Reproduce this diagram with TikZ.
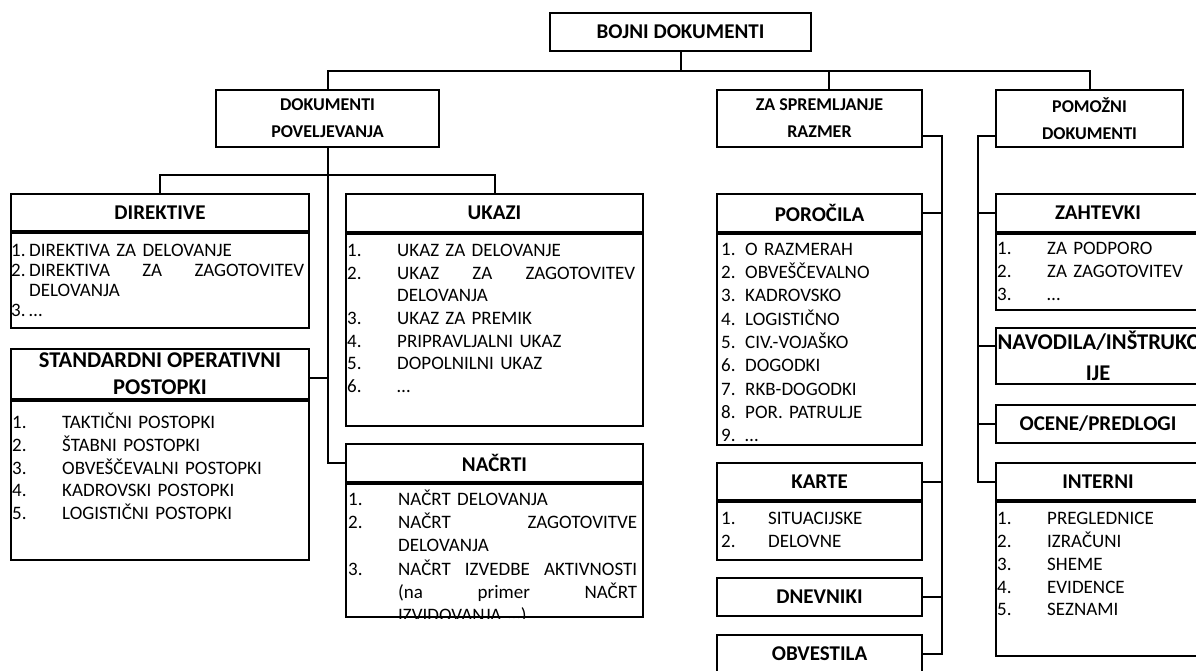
\documentclass[tikz,border=0pt]{standalone}
\usepackage{fontspec}
\setmainfont{Carlito}

\newcommand{\li}[3][50pt]{\strut\makebox[#1][l]{#2}#3}

\begin{document}
\begin{tikzpicture}[x=1pt, y=-1pt]
		\tikzstyle {box} = [draw, line width=2pt, anchor=north west, inner sep=0pt, align=center]
		\tikzstyle {head} = [box, font=\bfseries\fontsize{21}{27}\selectfont]
		\tikzstyle {group} = [box, minimum height=57pt, font=\bfseries\fontsize{18}{27}\selectfont]
		\tikzstyle {list} = [anchor=north west, align=left, inner xsep=2pt, inner ysep=7.4pt, font=\fontsize{19}{22.7}\selectfont]
		\tikzstyle {link} = [line width=2pt]

		\useasboundingbox (0,0) rectangle (1196,670);
		\clip (0,0) rectangle (1196,670);

		\node[head, minimum width=261pt, minimum height=38pt] (bojni) at (549,12) {BOJNI DOKUMENTI};

		\node[group, minimum width=223pt] (poveljevanja) at (215,89) {DOKUMENTI\\POVELJEVANJA};
		\node[group, minimum width=205pt] (spremljanje) at (716,89) {ZA SPREMLJANJE\\RAZMER};
		\node[group, minimum width=187pt] (pomozni) at (995,89) {POMOŽNI\\DOKUMENTI};

		% dokumenti poveljevanja
		\node[head, minimum width=298pt, minimum height=37pt] (direktive) at (10,193) {DIREKTIVE};
		\node[box, minimum width=298pt, minimum height=95pt] (direktive-box) at (direktive.south west) {};
		\node[list, text width=293pt, inner xsep=1pt, inner ysep=10pt, font=\fontsize{19}{20}\selectfont] (direktive-list) at (direktive-box.north west) {
			\li[18pt]{1.}{DIREKTIVA ZA DELOVANJE}\\
			\li[18pt]{2.}{DIREKTIVA\hfill ZA\hfill ZAGOTOVITEV}\\
			\li[18pt]{}{DELOVANJA}\\
			\li[18pt]{3.}{…}};

		\node[head, minimum width=298pt, minimum height=50pt, font=\bfseries\fontsize{22.5}{27}\selectfont] (standardni) at (10,348) {STANDARDNI OPERATIVNI\\POSTOPKI};
		\node[box, minimum width=298pt, minimum height=159pt] (standardni-box) at (standardni.south west) {};
		\node[list, text width=293pt, inner ysep=12.8pt] (standardni-list) at (standardni-box.north west) {
			\li{1.}{TAKTIČNI POSTOPKI}\\
			\li{2.}{ŠTABNI POSTOPKI}\\
			\li{3.}{OBVEŠČEVALNI POSTOPKI}\\
			\li{4.}{KADROVSKI POSTOPKI}\\
			\li{5.}{LOGISTIČNI POSTOPKI}};

		\node[head, minimum width=297pt, minimum height=38pt] (ukazi) at (345,193) {UKAZI};
		\node[box, minimum width=297pt, minimum height=192pt] (ukazi-box) at (ukazi.south west) {};
		\node[list, text width=288pt] (ukazi-list) at (ukazi-box.north west) {
			\li{1.}{UKAZ ZA DELOVANJE}\\
			\li{2.}{UKAZ\hfill ZA\hfill ZAGOTOVITEV}\\
			\li{}{DELOVANJA}\\
			\li{3.}{UKAZ ZA PREMIK}\\
			\li{4.}{PRIPRAVLJALNI UKAZ}\\
			\li{5.}{DOPOLNILNI UKAZ}\\
			\li{6.}{…}};

		\node[head, minimum width=297pt, minimum height=38pt] (nacrti) at (345,443) {NAČRTI};
		\node[box, minimum width=297pt, minimum height=133pt] (nacrti-box) at (nacrti.south west) {};
		\begin{scope}
			\clip (nacrti-box.north west) rectangle (nacrti-box.south east);
			\node[list, text width=289pt, inner xsep=3pt, inner ysep=5.8pt, font=\fontsize{19}{23.3}\selectfont] (nacrti-list) at (nacrti-box.north west) {
				\li{1.}{NAČRT DELOVANJA}\\
				\li{2.}{NAČRT\hfill ZAGOTOVITVE}\\
				\li{}{DELOVANJA}\\
				\li{3.}{NAČRT\hfill IZVEDBE\hfill AKTIVNOSTI}\\
				\li{}{(na\hfill primer\hfill NAČRT}\\
				\li{}{IZVIDOVANJA …)}};
		\end{scope}

		% za spremljanje razmer
		\node[head, minimum width=205pt, minimum height=38pt] (porocila) at (716,193) {POROČILA};
		\node[box, minimum width=205pt, minimum height=211pt] (porocila-box) at (porocila.south west) {};
		\node[list, text width=195pt, inner xsep=5pt, inner ysep=5.8pt, font=\fontsize{19}{23.3}\selectfont] (porocila-list) at (porocila-box.north west) {
			\li[24pt]{1.}{O RAZMERAH}\\
			\li[24pt]{2.}{OBVEŠČEVALNO}\\
			\li[24pt]{3.}{KADROVSKO}\\
			\li[24pt]{4.}{LOGISTIČNO}\\
			\li[24pt]{5.}{CIV.-VOJAŠKO}\\
			\li[24pt]{6.}{DOGODKI}\\
			\li[24pt]{7.}{RKB-DOGODKI}\\
			\li[24pt]{8.}{POR. PATRULJE}\\
			\li[24pt]{9.}{…}};

		\node[head, minimum width=205pt, minimum height=37pt] (karte) at (716,462) {KARTE};
		\node[box, minimum width=205pt, minimum height=58pt] (karte-box) at (karte.south west) {};
		\node[list, text width=195pt, inner xsep=5pt, inner ysep=7.8pt] (karte-list) at (karte-box.north west) {
			\li[47pt]{1.}{SITUACIJSKE}\\
			\li[47pt]{2.}{DELOVNE}};

		\node[head, minimum width=205pt, minimum height=38pt] (dnevniki) at (716,577) {DNEVNIKI};
		\node[head, minimum width=205pt, minimum height=38pt] (obvestila) at (716,634) {OBVESTILA};

		% pomozni dokumenti
		\node[head, minimum width=204pt, minimum height=38pt] (zahtevki) at (995,193) {ZAHTEVKI};
		\node[box, minimum width=204pt, minimum height=76pt] (zahtevki-box) at (zahtevki.south west) {};
		\node[list, text width=198pt, inner ysep=5.8pt] (zahtevki-list) at (zahtevki-box.north west) {
			\li{1.}{ZA PODPORO}\\
			\li{2.}{ZA ZAGOTOVITEV}\\
			\li{3.}{…}};

		\node[head, minimum width=204pt, minimum height=56pt, font=\bfseries\fontsize{22.5}{31}\selectfont] (navodila) at (995,327) {\makebox[0pt]{NAVODILA/INŠTRUKC}\\IJE};
		\node[head, minimum width=204pt, minimum height=38pt] (ocene) at (995,404) {OCENE/PREDLOGI};

		\node[head, minimum width=204pt, minimum height=37pt] (interni) at (995,462) {INTERNI};
		\node[box, minimum width=204pt, minimum height=154pt] (interni-box) at (interni.south west) {};
		\node[list, text width=198pt, inner ysep=7.8pt] (interni-list) at (interni-box.north west) {
			\li{1.}{PREGLEDNICE}\\
			\li{2.}{IZRAČUNI}\\
			\li{3.}{SHEME}\\
			\li{4.}{EVIDENCE}\\
			\li{5.}{SEZNAMI}};

		% connectors
		\draw[link] (bojni.south) -- ++(0,19) coordinate (top-bus);
		\draw[link] (top-bus) -| (poveljevanja.north);
		\draw[link] (top-bus) -| ([xshift=9.5pt]spremljanje.north);
		\draw[link] (top-bus) -| (pomozni.north);

		\draw[link] (poveljevanja.south) -- ++(0,27) coordinate (mid-bus);
		\draw[link] (mid-bus) -| (direktive.north);
		\draw[link] (mid-bus) -| (ukazi.north);
		\draw[link] (poveljevanja.south) |- (nacrti.west);
		\draw[link] ([yshift=-4pt]standardni.east) -- ++(19,0);

		\draw[link] ([yshift=-17.5pt]spremljanje.east) -- ++(19,0) |- (obvestila.east);
		\draw[link] (porocila.east) -- ++(19,0);
		\draw[link] (karte.east) -- ++(19,0);
		\draw[link] (dnevniki.east) -- ++(19,0);

		\draw[link] ([yshift=-17.5pt]pomozni.west) -- ++(-17,0) |- (interni.west);
		\draw[link] (zahtevki.west) -- ++(-17,0);
		\draw[link] ([yshift=10pt]navodila.west) -- ++(-17,0);
		\draw[link] (ocene.west) -- ++(-17,0);
\end{tikzpicture}
\end{document}
